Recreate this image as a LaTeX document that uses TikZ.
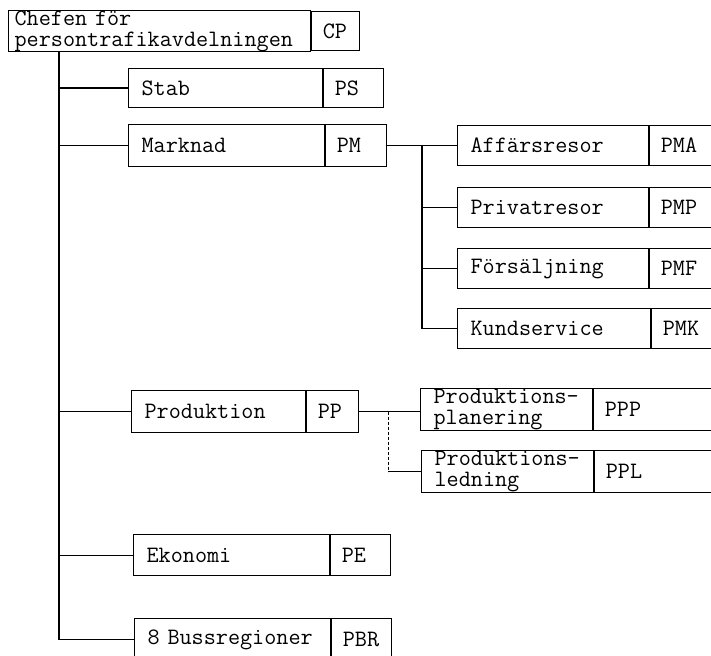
\documentclass[tikz,border=0pt]{standalone}
\usepackage{tikz}
\usetikzlibrary{positioning}

\begin{document}
\begin{tikzpicture}[x=1pt, y=-1pt, line width=1.2pt]

		\clip (0,0) rectangle (711,655);
		\useasboundingbox (0,0) rectangle (711,655);
		\tikzset{enhet/.style={draw, rectangle, anchor=north west, inner xsep=13pt, inner ysep=0pt, minimum height=40pt, align=left, font=\ttfamily\fontsize{23.5}{21}\selectfont}}
		\tikzset{kod/.style={draw, rectangle, anchor=west, inner xsep=11pt, inner ysep=0pt, align=left, font=\ttfamily\fontsize{23.5}{21}\selectfont}}

		% chefen
		\node[enhet, inner xsep=6pt, text width=290pt, minimum height=39pt] (cp) at (8,10) {Chefen för\\persontrafikavdelningen};
		\node[kod, text width=26pt, minimum height=39pt] (cpkod) at (cp.east) {CP};

		% avdelningar
		\node[enhet, text width=168pt, minimum height=39pt] (stab) at (128,68) {Stab};
		\node[kod, text width=38pt, minimum height=39pt] (stabkod) at (stab.east) {PS};
		\node[enhet, text width=170pt, minimum height=42pt] (mark) at (128,124) {Marknad};
		\node[kod, text width=39pt, minimum height=42pt] (markkod) at (mark.east) {PM};
		\node[enhet, text width=148pt, minimum height=42pt] (prod) at (131,390) {Produktion};
		\node[kod, text width=30pt, minimum height=42pt] (prodkod) at (prod.east) {PP};
		\node[enhet, text width=170pt, minimum height=41pt] (ek) at (133,534) {Ekonomi};
		\node[kod, text width=38pt, minimum height=41pt] (ekkod) at (ek.east) {PE};
		\node[enhet, text width=170pt, minimum height=42pt] (pbr) at (134,618) {8 Bussregioner};
		\node[kod, text width=38pt, minimum height=42pt] (pbrkod) at (pbr.east) {PBR};

		% marknad
		\node[enhet, text width=165pt] (pma) at (457,125) {Affärsresor};
		\node[kod, minimum width=100pt, text width=78pt, minimum height=40pt] (pmakod) at (pma.east) {PMA};
		\node[enhet, text width=165pt] (pmp) at (457,187) {Privatresor};
		\node[kod, minimum width=100pt, text width=78pt, minimum height=40pt] (pmpkod) at (pmp.east) {PMP};
		\node[enhet, text width=165pt] (pmf) at (457,248) {Försäljning};
		\node[kod, minimum width=100pt, text width=78pt, minimum height=40pt] (pmfkod) at (pmf.east) {PMF};
		\node[enhet, text width=167pt] (pmk) at (457,308) {Kundservice};
		\node[kod, minimum width=100pt, text width=78pt, minimum height=40pt] (pmkkod) at (pmk.east) {PMK};

		% produktion
		\node[enhet, text width=146pt, minimum height=42pt] (ppp) at (420,388) {Produktions-\\planering};
		\node[kod, minimum width=160pt, text width=138pt, minimum height=42pt] (pppkod) at (ppp.east) {PPP};
		\node[enhet, text width=146pt, minimum height=42pt] (ppl) at (421,450) {Produktions-\\ledning};
		\node[kod, minimum width=160pt, text width=138pt, minimum height=42pt] (pplkod) at (ppl.east) {PPL};

		\coordinate (stam) at (59,0);
		\coordinate (gren) at (422,0);
		\coordinate (gren2) at (388,0);

    \draw (cp.south -| stam) |- (pbr.west);
    \draw (stam |- stab.west) -- (stab.west);
    \draw (stam |- mark.west) -- (mark.west);
    \draw (stam |- prod.west) -- (prod.west);
    \draw (stam |- ek.west) -- (ek.west);

    \draw (markkod.east) -- (markkod.east -| pma.west);
    \draw (gren |- pma.west) |- (pmk.west);
    \draw (gren |- pmp.west) -- (pmp.west);
    \draw (gren |- pmf.west) -- (pmf.west);

    \draw (prodkod.east) -- (prodkod.east -| ppp.west);
    \draw[densely dashed, thin] (gren2 |- prodkod.east) -- (gren2 |- ppl.west);
    \draw (gren2 |- ppl.west) -- (ppl.west);

		\end{tikzpicture}
\end{document}
